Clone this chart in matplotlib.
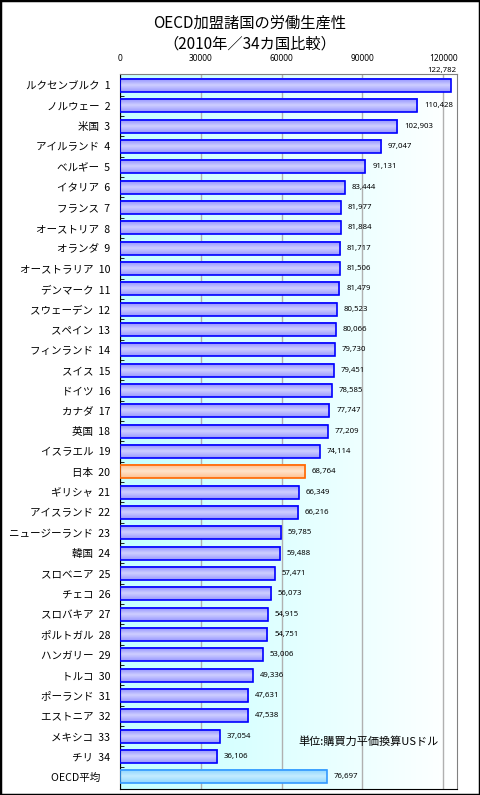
import numpy as np
import matplotlib
matplotlib.use("Agg")
import matplotlib.pyplot as plt
from matplotlib.colors import LinearSegmentedColormap
from matplotlib.patches import Rectangle

plt.rcParams['font.family'] = ['Noto Sans CJK JP', 'DejaVu Sans']

# data
countries = ['ルクセンブルク', 'ノルウェー', '米国', 'アイルランド', 'ベルギー', 'イタリア',
             'フランス', 'オーストリア', 'オランダ', 'オーストラリア', 'デンマーク', 'スウェーデン',
             'スペイン', 'フィンランド', 'スイス', 'ドイツ', 'カナダ', '英国', 'イスラエル', '日本',
             'ギリシャ', 'アイスランド', 'ニュージーランド', '韓国', 'スロベニア', 'チェコ',
             'スロバキア', 'ポルトガル', 'ハンガリー', 'トルコ', 'ポーランド', 'エストニア',
             'メキシコ', 'チリ']
values = [122782, 110428, 102903, 97047, 91131, 83444, 81977, 81884, 81717, 81506,
          81479, 80523, 80066, 79730, 79451, 78585, 77747, 77209, 74114, 68764,
          66349, 66216, 59785, 59488, 57471, 56073, 54915, 54751, 53006, 49336,
          47631, 47538, 37054, 36106]
avg_label = 'OECD平均'
avg_value = 76697
xticks = [0, 30000, 60000, 90000, 120000]

labels = [f'{c}\u2002{i + 1}' for i, c in enumerate(countries)] + [avg_label + '\u3000']
vals = values + [avg_value]
n = len(vals)

fig = plt.figure(figsize=(4.8, 7.95), dpi=100)
ax = fig.add_axes([0.25, 0.0076, 0.7014, 0.8993])

# background gradient
bg = LinearSegmentedColormap.from_list('bg', ['#c4ffff', '#ffffff'])
ax.imshow(np.linspace(0, 1, 256).reshape(1, -1), cmap=bg, aspect='auto',
          extent=[0, 1, 0, 1], transform=ax.transAxes, zorder=0)

y = np.arange(n)
bars = ax.barh(y, vals, height=0.64, facecolor='none', edgecolor='#0000ff',
               linewidth=1.2, zorder=3)

blue = LinearSegmentedColormap.from_list('b', ['#8c8cff', '#cfcfff', '#9898ff'])
orange = LinearSegmentedColormap.from_list('o', ['#ffbb88', '#ffe4cc', '#ffc090'])
cyan = LinearSegmentedColormap.from_list('c', ['#88d4ff', '#c4ecff', '#90d8ff'])
grad = np.linspace(0, 1, 64).reshape(-1, 1)

for i, b in enumerate(bars):
    cmap = blue
    if countries[i:i + 1] == ['日本']:
        cmap = orange
        b.set_edgecolor('#ff6600')
    elif i == n - 1:
        cmap = cyan
        b.set_edgecolor('#3399ff')
    x0, y0 = b.get_x(), b.get_y()
    ax.imshow(grad, cmap=cmap, aspect='auto', zorder=2,
              extent=[x0, x0 + b.get_width(), y0 + b.get_height(), y0])

    # value labels
    if i == 0:
        ax.text(1.0, 1.0, f'{vals[i]:,}', transform=ax.transAxes, ha='right',
                va='bottom', fontsize=5.6, family=['Noto Sans', 'DejaVu Sans'])
    else:
        ax.text(vals[i] + 2500, i, f'{vals[i]:,}', ha='left', va='center',
                fontsize=5.6, family=['Noto Sans', 'DejaVu Sans'], zorder=4)

ax.set_xlim(0, 125000)
ax.set_ylim(34.6, -0.57)

ax.xaxis.tick_top()
ax.set_xticks(xticks)
ax.set_xticklabels([str(t) for t in xticks], fontsize=6, family=['Noto Sans', 'DejaVu Sans'])
ax.tick_params(axis='x', length=0, pad=8)
ax.grid(axis='x', color='#b0b0b0', linewidth=1, zorder=1)
ax.set_axisbelow(True)

ax.set_yticks(y)
ax.set_yticklabels(labels, fontsize=7.6)
ax.tick_params(axis='y', length=0, pad=7)
ax.set_yticks(np.arange(n - 1) + 0.5, minor=True)
ax.tick_params(axis='y', which='minor', direction='in', length=3, color='black')

for s in ['top', 'right']:
    ax.spines[s].set_color('#808080')
ax.spines['left'].set_color('black')
ax.spines['bottom'].set_color('black')

fig.text(0.52, 0.971, 'OECD加盟諸国の労働生産性', ha='center', va='center', fontsize=11)
fig.text(0.52, 0.945, '（2010年／34カ国比較）', ha='center', va='center', fontsize=11)
ax.text(298 / 480, 1 - 742 / 795, '単位:購買力平価換算USドル', transform=fig.transFigure,
        ha='left', va='center', fontsize=8, zorder=5)

fig.patches.append(Rectangle((0, 0), 1, 1, transform=fig.transFigure, fill=False,
                             edgecolor='black', linewidth=2.5))

fig.savefig('out.png', dpi=100)
